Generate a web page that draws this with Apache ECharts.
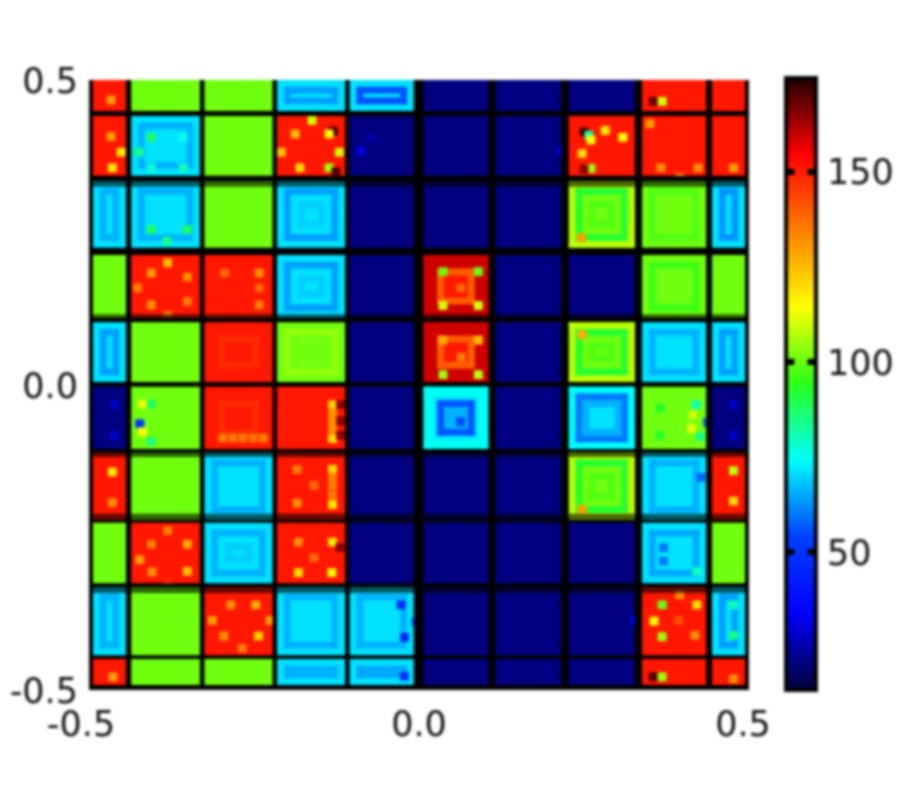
<!DOCTYPE html>
<html>
<head>
<meta charset="utf-8">
<style>
html,body{margin:0;padding:0;background:#fff}
#chart{width:900px;height:800px;filter:blur(1.4px)}
</style>
<script src="https://cdn.jsdelivr.net/npm/echarts@6/dist/echarts.min.js"></script>
</head>
<body>
<div id="chart"></div>
<script>
const tickLabelsX = [-0.5, 0, 0.5];
const colorbarTicks = [50, 100, 150];
const colorMin = 13.7, colorMax = 174.7;
const jetColors = ['#000038','#0000ff','#0040ff','#00ffff','#28ff18','#ffff00','#ff8000','#ff0000','#200000'];

const colLeft  = [-0.494,-0.436,-0.325,-0.215,-0.105,0.007,0.116,0.227,0.338,0.444];
const colRight = [-0.444,-0.332,-0.222,-0.112,-0.008,0.105,0.215,0.327,0.435,0.494];
const rowTop    = [0.5,0.441,0.334,0.213,0.103,-0.003,-0.111,-0.226,-0.331,-0.449];
const rowBottom = [0.449,0.343,0.225,0.110,0.005,-0.105,-0.221,-0.325,-0.443,-0.492];
const cellW = 0.0103, cellH = 0.0111;

const R = 151, L = 101, C = 71, N = 21;
const blockValues = [
  [R,L,L,C,C,N,N,N,R,R],
  [R,C,L,R,N,N,N,R,R,R],
  [C,C,L,C,N,N,N,L,L,C],
  [L,R,R,C,N,R,N,N,L,L],
  [C,L,R,L,N,R,N,L,C,C],
  [N,L,R,R,N,C,N,C,L,N],
  [R,L,C,R,N,N,N,L,C,R],
  [L,R,C,R,N,N,N,N,C,L],
  [C,L,R,C,C,N,N,N,R,C],
  [R,L,L,C,C,N,N,N,R,R]
];

// row, col, inset (cells), thickness (cells), value
const rings = [
  [0,3,1,1,64],[0,4,1,1,56],[2,0,1,1,66],[2,1,1,1,66],[2,3,1,1,64],[2,3,3,1,69],[2,9,1,1,63],
  [3,3,1,1,64],[3,3,3,1,69],[4,0,1,1,64],[4,8,1,1,66],[4,9,1,1,64],
  [5,5,0,1.5,75],[5,5,2,1,56],[5,5,3,2,66],[5,7,0,1,74],[5,7,1,1,60],[5,7,2,1,66],
  [6,2,1,1,66],[6,8,1,1,66],[7,2,1,1,66],[7,2,3,1,69],[7,8,1,1,65],
  [8,0,1,1,66],[8,3,1,1,66],[8,4,1,1,66],[8,9,1,1,64],[9,3,1,1,66],[9,4,1,1,65],
  [1,1,1,1,66],
  [2,7,0,1,108],[2,7,1,1,92],[2,7,3,1,98],[4,7,0,1,108],[4,7,1,1,92],[4,7,3,1,98],
  [6,7,0,1,108],[6,7,1,1,92],[6,7,3,1,98],[4,3,1,1,104],[2,8,1,1,98],[3,8,1,1,96],
  [3,5,0,2,159],[3,5,2,1,140],[4,5,0,2,159],[4,5,2,1,140],[5,2,2,1,148],[4,2,2,1,148]
];

// row, col, u (cells from left), v (cells from top), value
const spots = [
  [0,0,2,2.3,130],[1,0,2,2.4,130],[1,0,3.5,4.7,118],[1,0,2.2,7,118],
  [1,1,2.3,2.5,88],[1,1,7,2.5,76],[1,1,2.3,7,78],[1,1,7,7,80],[1,1,0.5,4.7,85],
  [1,3,2,2,125],[1,3,4.5,0,110],[1,3,7.6,1.6,172],[1,3,7,2,115],[1,3,8.5,4.7,110],[1,3,0,4.7,125],[1,3,2.7,7,120],[1,3,7,7,105],[1,3,8,7.6,170],
  [2,1,2.3,6.5,88],[2,1,7.6,6.5,88],[2,1,4.6,8.2,85],
  [3,1,2.3,2,130],[3,1,4.7,0.5,125],[3,1,7.6,2.6,132],[3,1,0.3,4.2,135],[3,1,2.3,6.7,132],[3,1,7.6,6.2,135],[3,1,4.7,8.3,135],
  [3,2,2.3,2,138],[3,2,7.4,2,132],[3,2,7.4,4.2,138],[3,2,7.4,6.7,135],
  [1,7,1.6,1.7,172],[1,7,2.3,2.2,82],[1,7,2.6,2.9,115],[1,7,4.7,1.5,118],[1,7,7.3,2.5,115],[1,7,1.3,4.9,120],[1,7,2.6,7.1,105],[1,7,1.6,7.2,165],
  [3,5,2.2,1.8,100],[3,5,7.4,1.8,100],[3,5,2.2,6.8,110],[3,5,7.4,6.8,110],[3,5,4.8,4.2,138],
  [4,5,2.2,2,128],[4,5,7.4,2,125],[4,5,2.2,7.1,105],[4,5,7.4,7.1,108],[4,5,4.9,4.5,135],
  [5,5,4.8,4.5,55],
  [2,7,1.2,7.7,130],[4,7,1.3,1.2,128],[6,7,1.3,7.7,130],
  [5,1,2.3,1.9,88],[5,1,0.6,4.8,50],[5,1,2.3,7.4,85],[5,1,1,1.9,112],[5,1,1,6,115],
  [5,8,7.3,2,80],[5,8,7.9,6.7,85],[5,8,9,4.6,55],[5,8,6.8,3.5,110],[5,8,6.6,5.5,112],[5,8,2,2.5,92],[5,8,2,6.5,92],
  [5,2,2,6.9,135],[5,2,3.5,6.9,136],[5,2,5,6.9,136],[5,2,6.5,6.9,136],[5,2,8,6.9,135],
  [5,3,7.5,2,122],[5,3,7.5,3.2,132],[5,3,7.5,4.4,132],[5,3,7.5,5.6,132],[5,3,7.5,7,120],[5,3,8.7,2,165],[5,3,8.7,4.4,165],[5,3,8.7,6.5,165],
  [6,3,7.5,1.8,120],[6,3,7.5,3,135],[6,3,7.5,4.2,135],[6,3,7.5,5.6,135],[6,3,7.5,7,118],[6,3,2.3,1.8,135],[6,3,2.3,6.8,132],[6,3,4.8,4.2,138],
  [7,3,2.5,2.2,132],[7,3,7.5,2.2,118],[7,3,2.5,6.7,120],[7,3,7.4,6.7,115],[7,3,4.8,4.5,138],[7,3,8.6,3,165],
  [6,0,2.2,2.2,118],[6,0,2.2,6.7,132],
  [7,1,2.3,2.5,135],[7,1,7.6,2.5,128],[7,1,0.6,4.8,130],[7,1,4.7,0.5,135],[7,1,2.4,6.6,132],[7,1,7.6,6.5,125],[7,1,4.8,8.8,130],
  [8,2,3.2,2,132],[8,2,6.9,2,128],[8,2,0.5,4.3,130],[8,2,9,4.3,130],[8,2,2.2,6.6,132],[8,2,7.3,6.6,122],[8,2,4.9,8.4,135],
  [8,8,2.3,2,100],[8,8,7.4,2,120],[8,8,1.1,4.4,115],[8,8,2.3,6.7,105],[8,8,7.1,6.5,132],[8,8,4.9,0.5,132],[8,8,4.7,4.3,142],
  [9,8,1,2,170],[9,8,2.3,2,105],[9,9,2.5,2.3,132],[9,0,2.3,2,130],
  [0,8,1,2.5,168],[0,8,2.3,2.5,110],
  [1,8,2.1,7,132],[1,8,7.6,7,132],[1,8,4.9,8.5,128],[1,8,0.5,0.5,130],[1,9,2.5,7,130],
  [6,9,2.5,2,108],[6,9,2.5,6.5,120],[6,8,8,3,58],[7,8,7.4,6.5,80],[7,8,2.5,3,60],[7,8,2.5,5,60],
  [8,9,2.5,2,80],[8,9,2.5,6.5,85],[5,9,2.5,2,28],[5,9,2.5,6.5,28],[5,0,2.5,2,28],[5,0,2.5,6.5,28],
  [8,4,6.9,2,48],[8,4,7.4,6.8,48],[8,4,9.1,4.5,50],[9,4,7.4,1.9,50],
  [1,4,1,4.5,30],[1,4,2.6,2.5,25],[1,6,8.9,4.5,30],[8,7,9,4.3,30]
];

// y ranges of the darkened rims along block edges
const dimBands = [[0.334,0.325],[0.116,0.110],[-0.111,-0.118],[-0.211,-0.221],[-0.331,-0.341]];

const spotSize = 1.3;
const cells = [];
blockValues.forEach((row, r) => row.forEach((v, c) => {
  cells.push([colLeft[c], colRight[c], rowTop[r], rowBottom[r], v]);
}));
rings.forEach(([r, c, inset, thick, v]) => {
  const x0 = colLeft[c] + inset * cellW, x1 = colRight[c] - inset * cellW;
  const y0 = rowTop[r] - inset * cellH, y1 = rowBottom[r] + inset * cellH;
  if (x1 <= x0 || y0 <= y1) return;
  const tx = thick * cellW, ty = thick * cellH;
  cells.push([x0, x1, y0, y0 - ty, v]);
  cells.push([x0, x1, y1 + ty, y1, v]);
  cells.push([x0, x0 + tx, y0, y1, v]);
  cells.push([x1 - tx, x1, y0, y1, v]);
});
spots.forEach(([r, c, u, v, val]) => {
  const x0 = colLeft[c] + u * cellW, y0 = rowTop[r] - v * cellH;
  cells.push([x0, Math.min(x0 + spotSize * cellW, colRight[c]), y0, Math.max(y0 - spotSize * cellH, rowBottom[r]), val]);
});
const bands = dimBands.map(b => [-0.5, 0.5, b[0], b[1]]);
const tickMarks = [];
colorbarTicks.forEach(v => {
  tickMarks.push([0, 0.28, v + 0.8, v - 0.8]);
  tickMarks.push([0.72, 1, v + 0.8, v - 0.8]);
});

function rectItem(params, api, style) {
  const a = api.coord([api.value(0), api.value(2)]);
  const b = api.coord([api.value(1), api.value(3)]);
  return { type:'rect', shape:{x:a[0], y:a[1], width:b[0]-a[0], height:b[1]-a[1]}, style };
}
const labelStyle = { color:'#111', fontFamily:'DejaVu Sans', fontSize:35 };
const xLabelText = v => v === -0.5 ? '{a|-0.5}' : v === 0.5 ? '{b|0.5}' : '{c|0.0}';
const lowered = { y:{ ...labelStyle, padding:[7,0,0,0] } };

const chart = echarts.init(document.getElementById('chart'));
chart.setOption({
  animation:false,
  backgroundColor:'#fff',
  grid:[
    { left:89, top:80, width:660, height:610, show:true, backgroundColor:'#000', borderWidth:0 },
    { left:786, top:78, width:30, height:612, show:true, backgroundColor:'transparent', borderColor:'#000', borderWidth:4, z:3 }
  ],
  xAxis:[
    { type:'value', gridIndex:0, min:-0.5, max:0.5, interval:0.5,
      axisLine:{show:false}, axisTick:{show:false}, splitLine:{show:false},
      axisLabel:{ ...labelStyle, margin:19, showMinLabel:true, showMaxLabel:true, formatter:xLabelText,
        rich:{ a:{...labelStyle, padding:[0,16,0,0]}, b:{...labelStyle, padding:[0,12,0,0]}, c:{...labelStyle} } } },
    { type:'value', gridIndex:1, min:0, max:1, show:false }
  ],
  yAxis:[
    { type:'value', gridIndex:0, min:-0.5, max:0.5, interval:0.5,
      axisLine:{show:false}, axisTick:{show:false}, splitLine:{show:false},
      axisLabel:{ ...labelStyle, margin:11, formatter:v=>'{y|'+v.toFixed(1)+'}', rich:lowered } },
    { type:'value', gridIndex:1, min:colorMin, max:colorMax, position:'right', z:4,
      axisLine:{show:false}, splitLine:{show:false}, axisTick:{show:false},
      axisLabel:{ ...labelStyle, margin:11, customValues:colorbarTicks, formatter:v=>'{y|'+v+'}', rich:lowered } }
  ],
  visualMap:{
    type:'continuous', min:colorMin, max:colorMax, dimension:4, seriesIndex:0,
    left:786, top:78, itemWidth:30, itemHeight:612, padding:0, text:null, showLabel:false,
    calculable:false, realtime:false, z:1, hoverLink:false,
    inRange:{ color:jetColors }
  },
  series:[
    { type:'custom', coordinateSystem:'cartesian2d', xAxisIndex:0, yAxisIndex:0, silent:true, clip:true,
      encode:{x:[0,1], y:[2,3]}, data:cells,
      renderItem:(p, api) => rectItem(p, api, { fill:api.visual('color') }) },
    { type:'custom', coordinateSystem:'cartesian2d', xAxisIndex:0, yAxisIndex:0, silent:true, clip:true,
      encode:{x:[0,1], y:[2,3]}, data:bands,
      renderItem:(p, api) => rectItem(p, api, { fill:'rgba(0,0,0,0.6)' }) },
    { type:'custom', coordinateSystem:'cartesian2d', xAxisIndex:1, yAxisIndex:1, silent:true, clip:true, z:5,
      encode:{x:[0,1], y:[2,3]}, data:tickMarks,
      renderItem:(p, api) => rectItem(p, api, { fill:'#000' }) }
  ]
});
</script>
</body>
</html>
